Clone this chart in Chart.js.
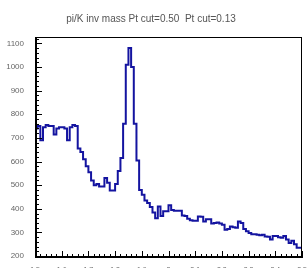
<!DOCTYPE html>
<html>
<head>
    <title>pi/K inv mass</title>
    <script src="https://cdn.jsdelivr.net/npm/chart.js"></script>
    <style>
        body { margin: 0; background: #fff; overflow: hidden; }
        #wrap { width: 308px; height: 268px; }
        canvas { display: block; }
    </style>
</head>
<body>
    <div id="wrap"><canvas id="massChart" width="308" height="268"></canvas></div>
    <script>
        // histogram: 100 bins from 1.5 to 2.5
        const binLow = 1.5;
        const binWidth = 0.01;
        const counts = [
            745, 740, 750, 690, 745, 755, 750, 750, 715, 740,
            745, 745, 740, 690, 745, 755, 750, 655, 640, 610,
            580, 555, 520, 500, 505, 495, 495, 530, 510, 478,
            478, 505, 560, 615, 760, 1010, 1080, 1000, 760, 605,
            480, 460, 435, 425, 408, 385, 360, 410, 370, 390,
            390, 415, 395, 392, 392, 392, 372, 370, 358, 352,
            350, 350, 368, 367, 346, 356, 356, 338, 340, 342,
            338, 333, 312, 315, 325, 322, 320, 346, 340, 315,
            305, 298, 292, 292, 290, 288, 290, 283, 282, 270,
            285, 285, 280, 278, 285, 270, 255, 265, 250, 235
        ];
        const yTicks = [200, 300, 400, 500, 600, 700, 800, 900, 1000, 1100];
        const xTicks = [1.5, 1.6, 1.7, 1.8, 1.9, 2.0, 2.1, 2.2, 2.3, 2.4, 2.5];
        const titleText = 'pi/K inv mass Pt cut=0.50  Pt cut=0.13';

        // step outline points: left edge of every bin, plus the upper edge
        const points = counts.map((c, i) => ({ x: binLow + i * binWidth, y: c }));
        points.push({ x: binLow + counts.length * binWidth, y: counts[counts.length - 1] });

        // ROOT style frame with inward ticks
        const frameTicks = {
            id: 'frameTicks',
            afterDraw(chart) {
                const { ctx, chartArea: a, scales } = chart;
                ctx.save();
                ctx.strokeStyle = '#000';
                ctx.lineWidth = 1;
                ctx.strokeRect(a.left + 0.5, a.top + 0.5, a.right - a.left - 1, a.bottom - a.top - 1);
                ctx.lineWidth = 2;
                ctx.beginPath();
                ctx.moveTo(a.left + 1, a.top);
                ctx.lineTo(a.left + 1, a.bottom - 1);
                ctx.lineTo(a.right, a.bottom - 1);
                ctx.stroke();
                ctx.lineWidth = 1;
                ctx.beginPath();
                // y ticks every 20, long every 100
                for (let v = 200; v <= 1120; v += 20) {
                    const y = Math.round(scales.y.getPixelForValue(v)) + 0.5;
                    const len = (v % 100 === 0) ? 7 : 4;
                    ctx.moveTo(a.left, y);
                    ctx.lineTo(a.left + len, y);
                }
                // x ticks every 0.02, long every 0.1
                for (let k = 0; k <= 50; k++) {
                    const x = Math.round(scales.x.getPixelForValue(1.5 + k * 0.02)) + 0.5;
                    const len = (k % 5 === 0) ? 7 : 4;
                    ctx.moveTo(x, a.bottom);
                    ctx.lineTo(x, a.bottom - len);
                }
                ctx.stroke();
                ctx.restore();
            }
        };

        new Chart(document.getElementById('massChart').getContext('2d'), {
            type: 'line',
            data: {
                datasets: [{
                    data: points,
                    stepped: 'after',
                    borderColor: '#1414a0',
                    borderWidth: 2,
                    pointRadius: 0,
                    fill: false
                }]
            },
            options: {
                responsive: false,
                animation: false,
                layout: { padding: { left: 0, right: 6, top: 0, bottom: 0 } },
                plugins: {
                    legend: { display: false },
                    tooltip: { enabled: false },
                    title: {
                        display: true,
                        text: titleText,
                        color: '#555',
                        font: { family: 'Liberation Sans', size: 10, weight: 'normal' },
                        padding: { top: 13, bottom: 12 }
                    }
                },
                scales: {
                    x: {
                        type: 'linear',
                        min: 1.5,
                        max: 2.5,
                        afterBuildTicks: s => { s.ticks = xTicks.map(v => ({ value: v })); },
                        afterFit: s => { s.height = 10; },
                        grid: { display: false },
                        border: { display: false },
                        ticks: {
                            color: '#666',
                            padding: 0,
                            maxRotation: 0,
                            autoSkip: false,
                            font: { family: 'Liberation Sans', size: 7 },
                            callback: v => String(Math.round(v * 10) / 10)
                        }
                    },
                    y: {
                        min: 192,
                        max: 1127,
                        afterBuildTicks: s => { s.ticks = yTicks.map(v => ({ value: v })); },
                        afterFit: s => { s.width = 35; },
                        grid: { display: false },
                        border: { display: false },
                        ticks: {
                            color: '#666',
                            padding: 3,
                            autoSkip: false,
                            font: { family: 'Liberation Sans', size: 8 },
                            callback: v => String(v)
                        }
                    }
                }
            },
            plugins: [frameTicks]
        });
    </script>
</body>
</html>
